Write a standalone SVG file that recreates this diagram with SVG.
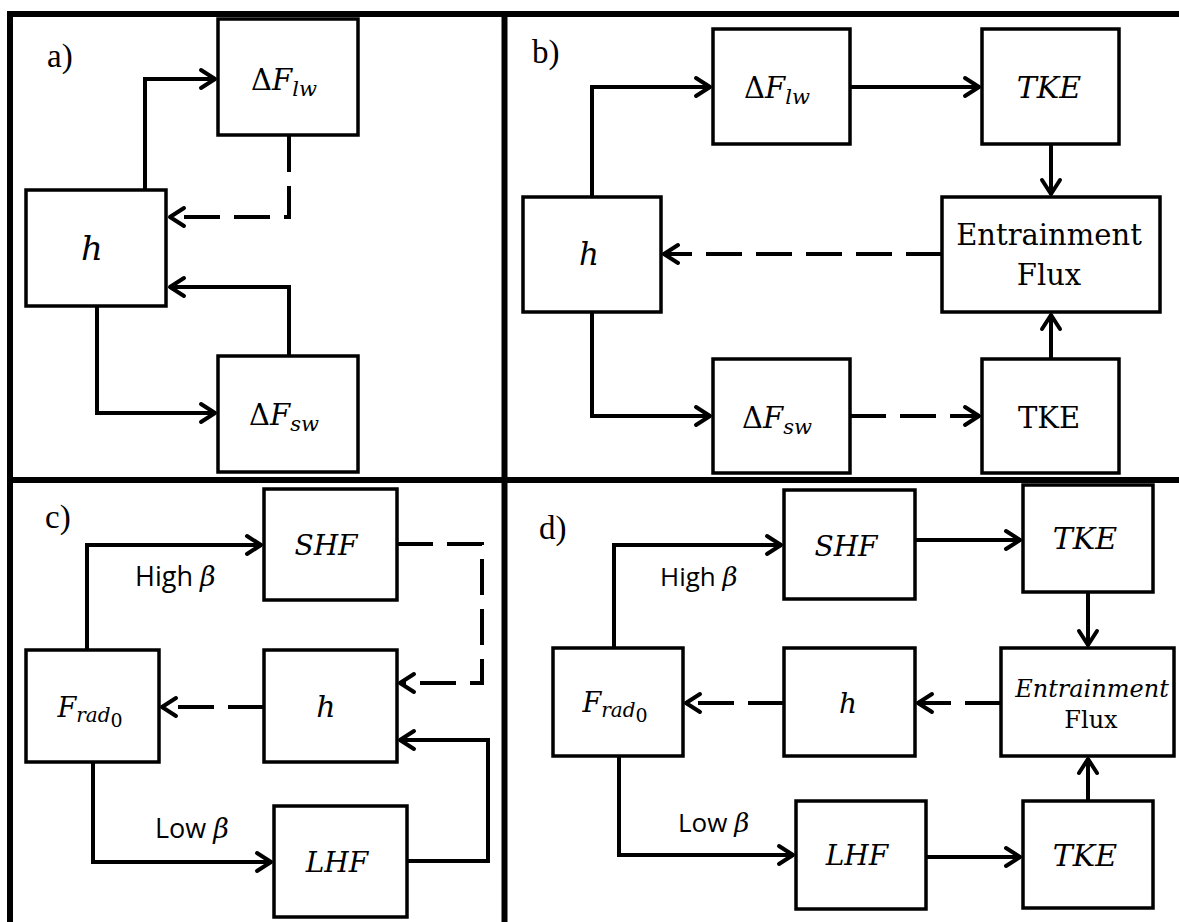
<svg xmlns="http://www.w3.org/2000/svg" width="1179" height="922" viewBox="0 0 1179 922">
<defs>
<marker id="ah" markerUnits="userSpaceOnUse" markerWidth="30" markerHeight="30" viewBox="-20 -15 30 30" refX="0" refY="0" orient="auto" overflow="visible">
<path d="M-15,-9 L-1,0 L-15,9" fill="none" stroke="#000" stroke-width="4" stroke-linecap="round" stroke-linejoin="round" stroke-dasharray="none"/>
</marker>
<style>
.box{fill:#fff;stroke:#000;stroke-width:3.5;}
.frame{stroke:#000;stroke-width:6;fill:none;}
.c{fill:none;stroke:#000;stroke-width:4;marker-end:url(#ah);}
.d{stroke-dasharray:36 14;}
.m{font-family:"DejaVu Serif","Liberation Serif",serif;fill:#000;text-anchor:middle;}
.i{font-style:italic;}
.lab{font-family:"Liberation Serif","Times New Roman",serif;font-size:33px;fill:#000;}
.s{font-family:"Open Sans","Liberation Sans",sans-serif;fill:#000;}
.b{font-family:"DejaVu Serif",serif;font-style:italic;}
</style>
</defs>
<g id="frame">
<line class="frame" x1="7" y1="14" x2="1179" y2="14"/>
<line class="frame" x1="10" y1="11" x2="10" y2="922"/>
<line class="frame" x1="504.5" y1="11" x2="504.5" y2="922"/>
<line class="frame" x1="7" y1="480" x2="1179" y2="480"/>
</g>
<g id="labels">
<text class="lab" x="47" y="67">a)</text>
<text class="lab" x="532" y="63">b)</text>
<text class="lab" x="45" y="528">c)</text>
<text class="lab" x="539" y="539">d)</text>
<text class="s" x="135" y="586" font-size="27">High <tspan class="b">β</tspan></text>
<text class="s" x="155" y="838" font-size="27">Low <tspan class="b">β</tspan></text>
<text class="s" x="660" y="586" font-size="26">High <tspan class="b">β</tspan></text>
<text class="s" x="678" y="832" font-size="26">Low <tspan class="b">β</tspan></text>
</g>
<g id="connectors">
<path class="c" d="M145,190 V79 H216"/>
<path class="c d" d="M289,136 V217 H169"/>
<path class="c" d="M97,307 V413 H216"/>
<path class="c" d="M289,355 V287 H169"/>
<path class="c" d="M592,197 V87 H711"/>
<path class="c" d="M592,312 V416 H711"/>
<path class="c" d="M850,87 H980"/>
<path class="c d" d="M850,416 H980"/>
<path class="c" d="M1051,144 V195"/>
<path class="c" d="M1051,359 V314"/>
<path class="c d" d="M942,254 H663"/>
<path class="c" d="M87,650 V545 H262"/>
<path class="c" d="M93,762 V862 H272"/>
<path class="c d" d="M397,544 H482 V683 H399"/>
<path class="c d" d="M264,707 H161"/>
<path class="c" d="M407,861 H488 V740 H399"/>
<path class="c" d="M614,648 V545 H782"/>
<path class="c" d="M619,756 V855 H794"/>
<path class="c" d="M915,540 H1021"/>
<path class="c" d="M926,857 H1021"/>
<path class="c" d="M1088,592 V646"/>
<path class="c" d="M1088,801 V758"/>
<path class="c d" d="M1001,703 H917"/>
<path class="c d" d="M784,703 H685"/>
</g>
<g id="a-dFlw"><rect class="box" x="218" y="19" width="140" height="116"/><text class="m" x="284" y="90" font-size="29">Δ<tspan class="i">F</tspan><tspan class="i" font-size="21" dy="6">lw</tspan></text></g>
<g id="a-h"><rect class="box" x="26" y="190" width="140" height="116"/><text class="m i" x="92" y="260" font-size="34">h</text></g>
<g id="a-dFsw"><rect class="box" x="218" y="356" width="140" height="116"/><text class="m" x="284" y="425" font-size="29">Δ<tspan class="i">F</tspan><tspan class="i" font-size="21" dy="6">sw</tspan></text></g>
<g id="b-dFlw"><rect class="box" x="713" y="29" width="137" height="115"/><text class="m" x="777" y="98" font-size="29">Δ<tspan class="i">F</tspan><tspan class="i" font-size="21" dy="6">lw</tspan></text></g>
<g id="b-TKE1"><rect class="box" x="982" y="29" width="137" height="115"/><text class="m i" x="1049" y="98" font-size="30">TKE</text></g>
<g id="b-h"><rect class="box" x="523" y="197" width="138" height="115"/><text class="m i" x="589" y="265" font-size="31">h</text></g>
<g id="b-entr"><rect class="box" x="942" y="197" width="218" height="115"/><text class="m" x="1049" y="245" font-size="29">Entrainment</text><text class="m" x="1049" y="285" font-size="29">Flux</text></g>
<g id="b-dFsw"><rect class="box" x="713" y="359" width="137" height="114"/><text class="m" x="777" y="428" font-size="29">Δ<tspan class="i">F</tspan><tspan class="i" font-size="21" dy="6">sw</tspan></text></g>
<g id="b-TKE2"><rect class="box" x="982" y="359" width="137" height="114"/><text class="m" x="1049" y="428" font-size="29">TKE</text></g>
<g id="c-SHF"><rect class="box" x="264" y="489" width="133" height="111"/><text class="m i" x="326" y="555" font-size="28">SHF</text></g>
<g id="c-Frad"><rect class="box" x="26" y="650" width="133" height="112"/><text class="m" x="90" y="717" font-size="27"><tspan class="i">F</tspan><tspan class="i" font-size="20" dy="5">rad</tspan><tspan font-size="19" dy="5">0</tspan></text></g>
<g id="c-h"><rect class="box" x="264" y="650" width="133" height="112"/><text class="m i" x="326" y="717" font-size="30">h</text></g>
<g id="c-LHF"><rect class="box" x="274" y="806" width="133" height="111"/><text class="m i" x="337" y="872" font-size="28">LHF</text></g>
<g id="d-SHF"><rect class="box" x="784" y="490" width="131" height="109"/><text class="m i" x="846" y="556" font-size="28">SHF</text></g>
<g id="d-TKE1"><rect class="box" x="1023" y="485" width="130" height="107"/><text class="m i" x="1085" y="549" font-size="30">TKE</text></g>
<g id="d-Frad"><rect class="box" x="553" y="648" width="130" height="108"/><text class="m" x="615" y="712" font-size="27"><tspan class="i">F</tspan><tspan class="i" font-size="20" dy="5">rad</tspan><tspan font-size="19" dy="5">0</tspan></text></g>
<g id="d-h"><rect class="box" x="784" y="648" width="131" height="108"/><text class="m i" x="848" y="713" font-size="28">h</text></g>
<g id="d-entr"><rect class="box" x="1001" y="648" width="173" height="108"/><text class="m i" x="1092" y="697" font-size="24">Entrainment</text><text class="m" x="1091" y="728" font-size="24">Flux</text></g>
<g id="d-LHF"><rect class="box" x="796" y="801" width="130" height="108"/><text class="m i" x="857" y="865" font-size="28">LHF</text></g>
<g id="d-TKE2"><rect class="box" x="1023" y="801" width="130" height="107"/><text class="m i" x="1085" y="866" font-size="30">TKE</text></g>
</svg>
